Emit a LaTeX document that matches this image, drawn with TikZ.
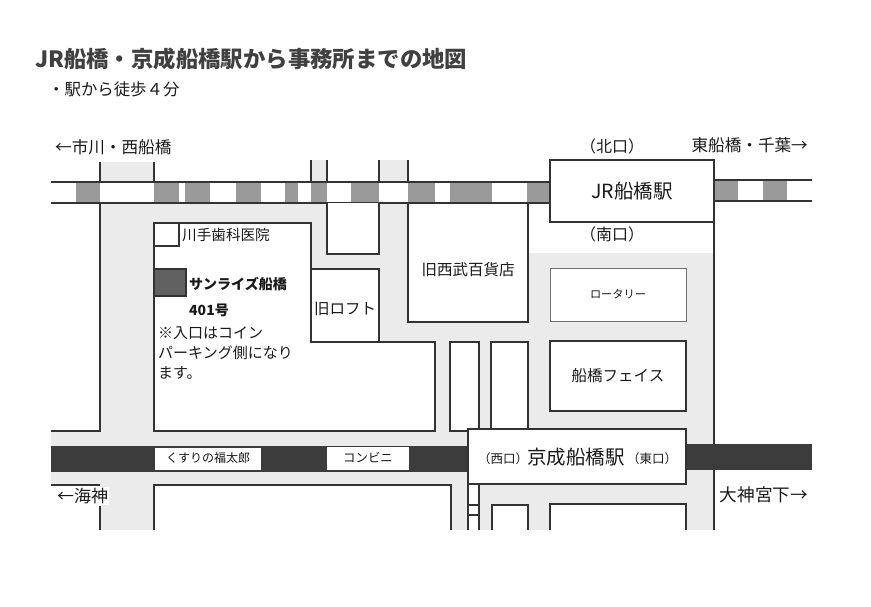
\documentclass[tikz,border=0pt]{standalone}
\usepackage{fontspec}
\setmainfont{Noto Sans CJK JP}
\usepackage{xcolor}
\usetikzlibrary{calc,positioning}
\definecolor{roadgrey}{HTML}{EBEBEB}
\definecolor{trackgrey}{HTML}{9A9A9A}
\definecolor{keisei}{HTML}{3C3C3C}
\definecolor{inkline}{HTML}{333333}
\newcommand{\fsz}[1]{\fontsize{#1}{#1}\selectfont}
\tikzset{
  wall/.style={draw=inkline,line width=1.3pt,line join=miter},
  bldg/.style={wall,fill=white},
  road/.style={fill=roadgrey,draw=none},
  lbl/.style={inner sep=0pt,text=black!90},
}

\begin{document}
\begin{tikzpicture}[x=1pt,y=-1pt]
  \useasboundingbox (0,0) rectangle (871,607);
  % roads
  \fill[road] (100,162) rectangle (154,182);
  \fill[road] (311,160) rectangle (327,182);
  \fill[road] (379,160) rectangle (408,182);
  \fill[road] (100,203) -- (528,203) -- (528,253) -- (714,253) -- (714,530) -- (100,530) -- cycle;
  \fill[road] (51,431) rectangle (714,485);
  % JR line
  \foreach \xa/\xb in {76/100,154/179,185/210,236/261,285/298,311/327,351/379,408/435,450/492,527/550}
    \fill[trackgrey] (\xa,182) rectangle (\xb,203);
  \foreach \xa/\xb in {714/738,763/787}
    \fill[trackgrey] (\xa,180) rectangle (\xb,201);
  \draw[wall] (51,182) -- (550,182);
  \draw[wall] (51,203) -- (550,203);
  \draw[wall] (714,180) -- (812,180);
  \draw[wall] (714,201) -- (812,201);
  % road edges
  \draw[wall] (100,162) -- (100,182);
  \draw[wall] (154,162) -- (154,182);
  \draw[wall] (311,160) -- (311,182);
  \draw[wall] (327,160) -- (327,182);
  \draw[wall] (379,160) -- (379,182);
  \draw[wall] (408,160) -- (408,182);
  \draw[wall] (100,203) -- (100,431) -- (51,431);
  \draw[wall] (51,485) -- (100,485);
  \draw[wall] (100,506) -- (100,530);
  \draw[wall] (714,222) -- (714,530);
  % blocks
  \draw[bldg] (154,223) -- (311,223) -- (311,342) -- (435,342) -- (435,431) -- (154,431) -- cycle;
  \draw[bldg] (327,203) -- (327,254) -- (379,254) -- (379,203);
  \draw[bldg] (311,269) rectangle (379,342);
  \draw[bldg] (408,203) rectangle (528,322);
  \draw[bldg] (450,342) rectangle (479,431);
  \draw[bldg] (491,342) rectangle (528,431);
  \draw[bldg,draw=inkline!70,line width=.9pt] (550,268) rectangle (686,321);
  \draw[bldg] (550,341) rectangle (686,411);
  \draw[bldg] (154,223) rectangle (179,246);
  \draw[wall,fill=black!62] (154,269) rectangle (186,296);
  \draw[bldg] (154,530) -- (154,485) -- (451,485) -- (451,530);
  \draw[bldg] (468,530) -- (468,484) -- (479,484) -- (479,530);
  \draw[wall] (468,505) -- (479,505);
  \draw[wall] (468,515) -- (479,515);
  \draw[bldg] (492,530) -- (492,505) -- (528,505) -- (528,530);
  \draw[bldg] (550,530) -- (550,504) -- (686,504) -- (686,530);
  % Keisei line
  \fill[keisei] (51,446) rectangle (468,472);
  \fill[keisei] (686,444) rectangle (812,470);
  \fill[white] (155,448) rectangle (261,470);
  \fill[white] (327,447) rectangle (409,470);
  % stations
  \draw[bldg] (550,160) rectangle (714,222);
  \draw[bldg] (468,429) rectangle (686,484);
  % texts
  \node[lbl,anchor=west,font=\bfseries\fsz{22.4},text=black!75] (title) at (35,59) {JR船橋・京成船橋駅から事務所までの地図};
  \node[lbl,anchor=west,font=\fsz{16.4}] (walk) at (48,89) {・駅から徒歩４分};
  \node[lbl,anchor=west,font=\fsz{16.6}] (ichikawa) at (55,147) {←市川・西船橋};
  \node[lbl,font=\fsz{16}] (north) at (612,146) {（北口）};
  \node[lbl,anchor=east,font=\fsz{16.6}] (chiba) at (808,145) {東船橋・千葉→};
  \node[lbl,font=\fsz{19.5}] (jr) at (632,191) {JR船橋駅};
  \node[lbl,font=\fsz{16}] (south) at (612,234) {（南口）};
  \node[lbl,anchor=west,font=\fsz{14.6}] (dental) at (182,235) {川手歯科医院};
  \node[lbl,anchor=west,font=\bfseries\fsz{14}] (sunrise) at (189,284) {サンライズ船橋};
  \node[lbl,anchor=west,font=\bfseries\fsz{14}] (room) at (189,310) {401号};
  \node[lbl,anchor=north west,align=left,font=\fontsize{15}{20}\selectfont] (note) at (158,327) {※入口はコイン\\パーキング側になり\\ます。};
  \node[lbl,font=\fsz{15.5}] (loft) at (345,309) {旧ロフト};
  \node[lbl,font=\fsz{15.5}] (seibu) at (468,270) {旧西武百貨店};
  \node[lbl,font=\fsz{11.2}] (rotary) at (618,294) {ロータリー};
  \node[lbl,font=\fsz{15.5}] (face) at (618,376) {船橋フェイス};
  \node[lbl,font=\fsz{12}] (kusuri) at (208,458) {くすりの福太郎};
  \node[lbl,font=\fsz{12.4}] (conv) at (368,458) {コンビニ};
  \node[lbl,font=\fsz{12.5}] (west) at (503,459) {（西口）};
  \node[lbl,font=\fsz{19.5}] (keiseist) at (576,457) {京成船橋駅};
  \node[lbl,font=\fsz{12.5}] (east) at (652,459) {（東口）};
  \node[lbl,anchor=west,font=\fsz{17},fill=white,inner sep=1pt] (kaijin) at (56,496) {←海神};
  \node[lbl,anchor=east,font=\fsz{17.6}] (daijingu) at (808,495) {大神宮下→};
\end{tikzpicture}
\end{document}
